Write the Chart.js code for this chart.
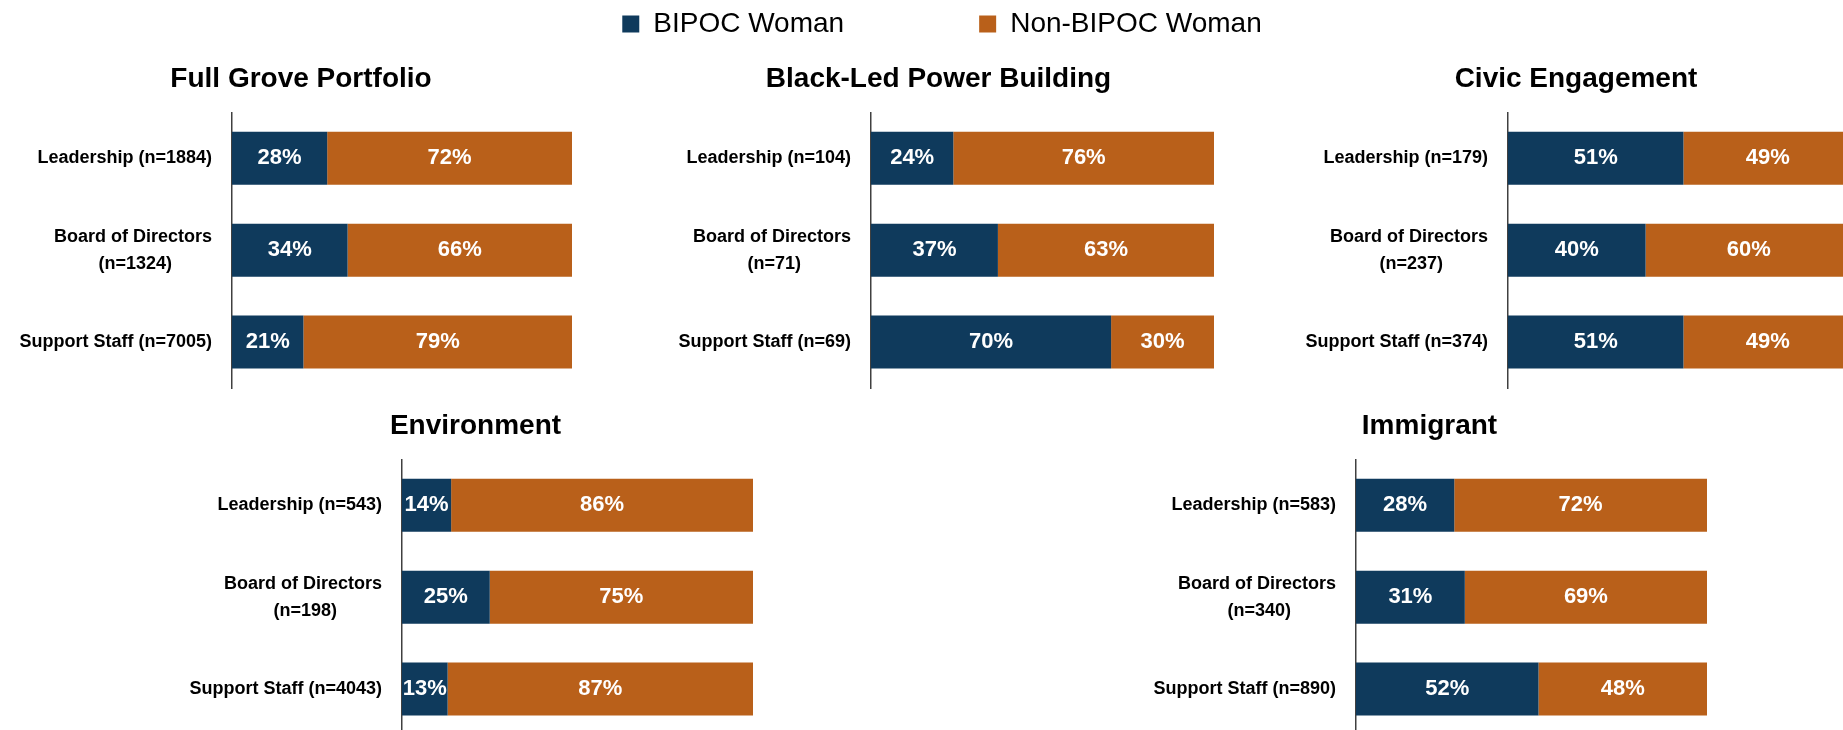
<!DOCTYPE html>
<html>
<head>
<meta charset="utf-8">
<script src="https://cdn.jsdelivr.net/npm/chart.js@4.4.1/dist/chart.umd.min.js"></script>
<style>
html, body { margin: 0; padding: 0; background: #fff; overflow: hidden; width: 1843px; height: 730px; }
#wrap { position: relative; width: 1843px; height: 730px; overflow: hidden; background: #fff; }
canvas { position: absolute; }
</style>
</head>
<body>
<div id="wrap">
  <canvas id="legend"></canvas>
  <canvas id="c1"></canvas>
  <canvas id="c2"></canvas>
  <canvas id="c3"></canvas>
  <canvas id="c4"></canvas>
  <canvas id="c5"></canvas>
</div>
<script>
// ---- Data ----
const seriesNames = ['BIPOC Woman', 'Non-BIPOC Woman'];
const seriesColors = ['#0f3a5c', '#b9601a'];
const categories = ['Leadership', 'Board of Directors', 'Support Staff'];
const panelTitles = ['Full Grove Portfolio', 'Black-Led Power Building', 'Civic Engagement', 'Environment', 'Immigrant'];

const nFullGrove = [1884, 1324, 7005];
const bipocFullGrove = [28, 34, 21];
const nonBipocFullGrove = [72, 66, 79];

const nBlackLed = [104, 71, 69];
const bipocBlackLed = [24, 37, 70];
const nonBipocBlackLed = [76, 63, 30];

const nCivic = [179, 237, 374];
const bipocCivic = [51, 40, 51];
const nonBipocCivic = [49, 60, 49];

const nEnvironment = [543, 198, 4043];
const bipocEnvironment = [14, 25, 13];
const nonBipocEnvironment = [86, 75, 87];

const nImmigrant = [583, 340, 890];
const bipocImmigrant = [28, 31, 52];
const nonBipocImmigrant = [72, 69, 48];

// ---- Setup ----
const FONT = '"Liberation Sans", Arial, sans-serif';
Chart.defaults.font.family = FONT;
Chart.defaults.color = '#000';

const measureCtx = document.createElement('canvas').getContext('2d');
function centerLines(lines, font) {
  measureCtx.font = font;
  const widths = lines.map(l => measureCtx.measureText(l).width);
  const maxW = Math.max(...widths);
  const sp = measureCtx.measureText(' ').width;
  return lines.map((l, k) => l + ' '.repeat(Math.max(0, Math.round((maxW - widths[k]) / 2 / sp))));
}
function makeLabels(n) {
  const font = 'bold 18px ' + FONT;
  return categories.map((c, i) => i === 1
    ? centerLines([c, '(n=' + n[i] + ')'], font)
    : c + ' (n=' + n[i] + ')');
}

const valueLabels = {
  id: 'valueLabels',
  afterDatasetsDraw(chart) {
    const ctx = chart.ctx;
    ctx.save();
    ctx.font = 'bold 22px ' + FONT;
    ctx.fillStyle = '#ffffff';
    ctx.textAlign = 'center';
    ctx.textBaseline = 'middle';
    chart.data.datasets.forEach((ds, i) => {
      const meta = chart.getDatasetMeta(i);
      if (meta.hidden) return;
      meta.data.forEach((bar, j) => {
        const p = bar.getCenterPoint();
        ctx.fillText(ds.data[j] + '%', p.x, p.y);
      });
    });
    ctx.restore();
  }
};

function placeCanvas(id, left, top, width, height) {
  const c = document.getElementById(id);
  c.width = Math.round(width); c.height = Math.round(height);
  c.style.left = left + 'px'; c.style.top = top + 'px';
  c.style.width = Math.round(width) + 'px'; c.style.height = Math.round(height) + 'px';
  return c;
}

// ---- Legend ----
const legendCanvas = placeCanvas('legend', 42, -125, 1800, 360);
new Chart(legendCanvas, {
  type: 'bar',
  data: {
    labels: [],
    datasets: seriesNames.map((name, i) => ({ label: name, data: [], backgroundColor: seriesColors[i], borderWidth: 0 }))
  },
  options: {
    responsive: false,
    animation: false,
    devicePixelRatio: 1,
    layout: { padding: 0 },
    scales: { x: { display: false }, y: { display: false } },
    plugins: {
      tooltip: { enabled: false },
      legend: {
        display: true,
        position: 'top',
        align: 'center',
        labels: { boxWidth: 17, boxHeight: 17, padding: 135, color: '#000', font: { size: 28, family: FONT } }
      }
    }
  }
});

// ---- Panels ----
// axisW: label column width (canvas left to axis line); rightW: blank space right of the 100% bar end
const panels = [
  { id: 'c1', title: panelTitles[0], n: nFullGrove, a: bipocFullGrove, b: nonBipocFullGrove,
    left: 0, top: 50, width: 602, height: 378, axisW: 232, rightW: 30, tTop: 12, tBot: 16.7 },
  { id: 'c2', title: panelTitles[1], n: nBlackLed, a: bipocBlackLed, b: nonBipocBlackLed,
    left: 620, top: 50, width: 637, height: 378, axisW: 251, rightW: 43, tTop: 12, tBot: 16.7 },
  { id: 'c3', title: panelTitles[2], n: nCivic, a: bipocCivic, b: nonBipocCivic,
    left: 1240, top: 50, width: 672, height: 378, axisW: 268, rightW: 60, tTop: 12, tBot: 16.7 },
  { id: 'c4', title: panelTitles[3], n: nEnvironment, a: bipocEnvironment, b: nonBipocEnvironment,
    left: 150, top: 400, width: 651, height: 375, axisW: 252, rightW: 48, tTop: 9.4, tBot: 16.3 },
  { id: 'c5', title: panelTitles[4], n: nImmigrant, a: bipocImmigrant, b: nonBipocImmigrant,
    left: 1100, top: 400, width: 659, height: 375, axisW: 256, rightW: 52, tTop: 9.4, tBot: 16.3 }
];

panels.forEach(p => {
  const canvas = placeCanvas(p.id, p.left, p.top, p.width, p.height);
  new Chart(canvas, {
    type: 'bar',
    data: {
      labels: makeLabels(p.n),
      datasets: [
        { label: seriesNames[0], data: p.a, backgroundColor: seriesColors[0], borderWidth: 0 },
        { label: seriesNames[1], data: p.b, backgroundColor: seriesColors[1], borderWidth: 0 }
      ]
    },
    options: {
      indexAxis: 'y',
      responsive: false,
      animation: false,
      devicePixelRatio: 1,
      layout: { padding: { left: 0, right: 0, top: 0, bottom: 40 } },
      datasets: { bar: { barPercentage: 0.577, categoryPercentage: 1 } },
      scales: {
        x: { stacked: true, min: 0, max: 100, display: false },
        y: {
          stacked: true,
          position: 'left',
          grid: { display: false, drawTicks: false },
          border: { display: true, color: '#404040', width: 1.5 },
          ticks: { padding: 20, color: '#000', font: { size: 18, weight: 'bold', family: FONT, lineHeight: 1.5 } },
          afterFit: (scale) => { scale.width = p.axisW; }
        },
        yRight: {
          type: 'category',
          axis: 'y',
          position: 'right',
          display: true,
          grid: { display: false, drawTicks: false },
          border: { display: false },
          ticks: { display: false },
          afterFit: (scale) => { scale.width = p.rightW; }
        }
      },
      plugins: {
        legend: { display: false },
        tooltip: { enabled: false },
        title: {
          display: true,
          text: p.title,
          color: '#000',
          align: 'center',
          font: { size: 28, weight: 'bold', family: FONT },
          padding: { top: p.tTop, bottom: p.tBot }
        }
      }
    },
    plugins: [valueLabels]
  });
});
</script>
</body>
</html>
